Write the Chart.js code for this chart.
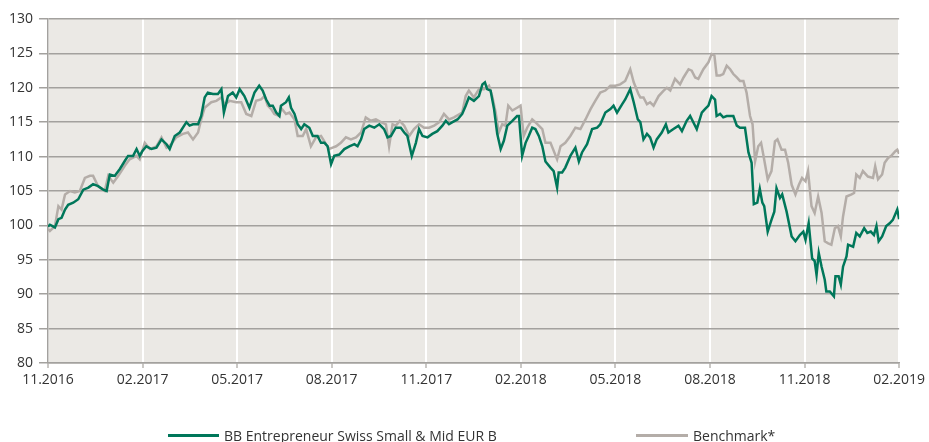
<!DOCTYPE html>
<html>
<head>
<meta charset="utf-8">
<script src="https://cdn.jsdelivr.net/npm/chart.js@4.4.1/dist/chart.umd.min.js"></script>
<style>
html,body{margin:0;padding:0;background:#fff;}
#wrap{position:relative;width:929px;height:442px;}
#legend{position:absolute;left:0;top:426px;width:929px;height:18px;font:14px "Open Sans",sans-serif;color:#333;}
.item{position:absolute;top:0;height:18px;display:flex;align-items:center;white-space:nowrap;}
.swatch{display:inline-block;height:3px;margin-right:5px;}
</style>
</head>
<body>
<div id="wrap">
<canvas id="chart" width="929" height="442"></canvas>
<div id="legend">
<div class="item" style="left:168px"><span class="swatch" style="width:51px;background:#00775a"></span>BB Entrepreneur Swiss Small &amp; Mid EUR B</div>
<div class="item" style="left:636px"><span class="swatch" style="width:52px;background:#b4ada8"></span>Benchmark*</div>
</div>
</div>
<script>
// x = months since 11.2016
const tickLabels=["11.2016","02.2017","05.2017","08.2017","11.2017","02.2018","05.2018","08.2018","11.2018","02.2019"];

const fundMonths=[0,0.06,0.22,0.33,0.43,0.54,0.64,0.80,0.96,1.12,1.28,1.43,1.59,1.75,1.86,1.96,2.12,2.28,2.44,2.54,2.70,2.81,2.91,2.99,3.12,3.28,3.44,3.60,3.76,3.86,4.02,4.18,4.39,4.49,4.60,4.76,4.86,4.97,5.07,5.23,5.39,5.50,5.58,5.71,5.86,5.97,6.08,6.23,6.39,6.55,6.70,
6.81,6.92,7.03,7.13,7.24,7.34,7.39,7.55,7.64,7.71,7.82,7.92,8.03,8.13,8.29,8.40,8.55,8.66,8.77,8.87,8.98,9.08,9.24,9.40,9.56,9.72,9.82,9.93,10.03,10.19,10.35,10.51,10.66,10.77,10.88,11.03,11.19,11.30,11.40,11.54,11.67,11.77,11.88,12.04,12.19,12.35,12.51,12.62,12.72,
12.83,12.99,13.14,13.25,13.35,13.51,13.67,13.78,13.86,13.93,14.04,14.15,14.25,14.36,14.46,14.57,14.73,14.88,14.94,15.04,15.15,15.25,15.36,15.46,15.57,15.68,15.78,15.94,16.04,16.15,16.20,16.31,16.41,16.57,16.73,16.84,16.94,17.10,17.26,17.42,17.52,17.68,17.84,17.94,18.05,18.21,18.31,18.47,18.58,18.71,
18.79,18.89,19.00,19.10,19.21,19.31,19.47,19.60,19.68,19.84,20.00,20.11,20.26,20.37,20.47,20.58,20.74,20.84,20.95,21.05,21.16,21.21,21.32,21.42,21.53,21.64,21.74,21.85,21.95,22.11,22.22,22.32,22.39,22.50,22.58,22.66,22.72,22.83,22.95,23.04,23.11,23.22,23.29,23.43,23.59,23.71,23.85,23.96,24.03,24.13,24.24,24.32,24.38,24.45,24.54,24.64,24.69,24.80,24.93,24.98,25.08,25.15,25.22,25.33,25.38,25.54,25.64,25.75,25.89,25.99,26.10,26.20,26.28,26.35,26.46,26.59,26.70,26.80,26.94,27.0];
const fundValues=[99.8,100.1,99.7,100.9,101.1,102.3,103,103.3,103.8,105.2,105.5,106,105.7,105.2,105,107.4,107.2,108.2,109.4,110.1,110.1,111.1,110.1,110.8,111.5,111.1,111.3,112.5,111.8,111.1,113,113.5,115,114.5,114.7,114.7,115.9,118.6,119.3,119.1,119.1,119.8,116.4,118.8,119.3,118.6,119.8,118.8,117.1,119.3,120.3,
119.6,118.3,117.4,117.4,116.4,115.9,117.4,117.9,118.6,117.1,116.2,114.7,114,114.7,114.2,113,113,112,112,111.5,108.9,110.1,110.3,111.1,111.5,111.8,111.5,112.5,114,114.5,114.2,114.7,114,112.8,113,114.2,114.2,113.5,113,110.1,112,114,113,112.8,113.3,113.7,114.5,115.2,114.7,
115,115.4,116.2,117.4,118.6,118.1,118.8,120.5,120.8,119.8,119.6,116.9,113.3,111.1,112.3,114.5,115.2,115.9,115.9,110.1,112,113,114.2,114,113,111.5,109.3,108.4,107.9,105.5,107.7,107.7,108.4,110.1,111.3,109.3,110.6,111.8,114,114.2,114.7,116.4,116.9,117.4,116.4,117.6,118.3,119.8,117.9,115.4,
115,112.5,113.3,112.8,111.3,112.5,113.5,114.7,113.5,114,114.5,113.7,115.2,115.9,115,114,116.4,116.9,117.4,118.8,118.3,115.9,116.2,115.7,115.9,115.9,115.9,114.5,114.2,114.2,110.6,109.1,103.1,103.3,105.3,103.3,102.8,99.1,100.8,102,105.4,104,104.5,102,98.4,97.7,98.6,99.1,97.9,100.3,95.2,94.8,92.8,96,94,92.1,90.4,90.4,89.7,92.6,92.6,91.4,94,95.5,97.2,96.9,98.9,98.4,99.6,98.9,99.1,98.6,99.9,97.7,98.4,99.9,100.3,100.8,102.3,100.9];

const benchMonths=[0,0.06,0.22,0.33,0.43,0.54,0.70,0.85,1.01,1.17,1.33,1.43,1.59,1.80,1.91,2.07,2.23,2.44,2.59,2.81,2.91,3.07,3.23,3.44,3.60,3.76,3.91,4.07,4.28,4.44,4.60,4.76,4.86,4.97,5.18,5.34,5.50,5.60,5.76,5.97,6.13,6.29,6.45,6.60,
6.76,6.87,6.97,7.08,7.18,7.34,7.39,7.55,7.66,7.82,7.92,8.08,8.19,8.34,8.50,8.66,8.82,8.92,9.03,9.14,9.29,9.45,9.61,9.77,9.93,10.08,10.24,10.40,10.56,10.72,10.82,10.93,11.03,11.16,11.30,11.46,11.61,11.77,11.93,12.09,12.25,12.41,12.56,12.72,
12.88,13.14,13.25,13.35,13.51,13.67,13.83,13.99,14.09,14.20,14.30,14.41,14.51,14.60,14.73,14.88,14.99,15.09,15.20,15.36,15.46,15.57,15.68,15.78,15.94,16.15,16.26,16.41,16.57,16.73,16.89,17.05,17.21,17.36,17.52,17.68,17.84,18.00,18.15,18.31,18.47,18.58,18.73,
18.79,18.89,19.00,19.10,19.21,19.37,19.53,19.63,19.74,19.89,20.05,20.16,20.32,20.42,20.53,20.63,20.79,20.95,21.05,21.14,21.21,21.32,21.42,21.53,21.64,21.74,21.85,21.95,22.06,22.16,22.27,22.35,22.43,22.53,22.62,22.69,22.83,22.95,23.06,23.14,23.27,23.38,23.48,23.59,23.71,23.82,23.92,24.03,24.11,24.22,24.32,24.43,24.54,24.64,24.75,24.85,24.96,25.06,25.15,25.22,25.33,25.49,25.57,25.64,25.75,25.85,26.01,26.17,26.24,26.33,26.46,26.54,26.65,26.75,26.88,26.94,27.0];
const benchValues=[99.5,99.2,99.9,102.8,102.3,104.5,105,104.8,105,106.9,107.2,107.2,105.7,105,107.2,106.2,107.2,108.7,109.6,110.1,109.6,112,111.1,111.5,112.8,111.3,111.8,112.8,113.3,113.5,112.5,113.5,115.4,117.1,117.9,118.1,118.6,117.6,118.1,117.9,117.9,116.2,115.9,118.1,
118.3,118.8,117.4,116.9,116.2,115.9,117.1,116.2,116.4,115.4,113,113,114,111.5,112.8,113,111.8,111.1,111.3,111.5,112,112.8,112.5,112.8,113.5,115.7,115.2,115.4,115,114.7,111.5,114.7,114.5,115.2,114.5,113,114,114.7,114.2,114.2,114.5,115,116.2,115.4,
115.7,116.4,118.8,119.6,118.6,119.8,119.8,120.3,118.8,116.4,113.5,114.7,114.5,117.4,116.7,117.1,117.4,113,114.2,115.4,115,114.5,114,112,112,109.6,111.5,112,113,114.2,114,115.4,116.9,118.1,119.3,119.6,120.3,120.3,120.5,121,122.7,120.8,119.1,
118.6,118.6,117.6,117.9,117.4,118.8,119.6,120,119.6,121.3,120.5,121.5,122.7,122.5,121.5,121.3,122.7,123.7,124.9,124.7,121.8,121.8,122,123.2,122.7,122,121.5,121,121,119.3,115.9,114.7,109.3,111.5,112,110.3,106.7,107.9,112.2,112.5,111,111,109.1,105.9,104.5,105.9,106.9,106.4,107.9,102.8,101.8,104.2,101.8,97.7,97.4,97.2,99.6,99.9,98.4,101.3,104.2,104.5,104.7,107.4,106.9,107.9,107.1,106.9,108.6,106.7,107.4,109.1,109.8,110.1,110.8,111,110.4];

const green="#00775a";
const grey="#b4ada8";
const gridGrey="#a3a19e";
const font={family:"'Open Sans', sans-serif",size:14};

const plotBg={
id:"plotBg",
beforeDraw(c){
const a=c.chartArea,ctx=c.ctx;
ctx.save();
ctx.fillStyle="#ebe9e5";
ctx.fillRect(a.left,a.top,a.right-a.left,a.bottom-a.top);
ctx.restore();
}
};

new Chart(document.getElementById("chart"),{
type:"line",
data:{
datasets:[
{label:"BB Entrepreneur Swiss Small & Mid EUR B",data:fundMonths.map((m,i)=>({x:m,y:fundValues[i]})),borderColor:green,borderWidth:2.5,pointRadius:0,tension:0},
{label:"Benchmark*",data:benchMonths.map((m,i)=>({x:m,y:benchValues[i]})),borderColor:grey,borderWidth:2.5,pointRadius:0,tension:0}
]
},
options:{
responsive:false,
animation:false,
layout:{padding:{left:0,right:28,top:19,bottom:49}},
plugins:{legend:{display:false},tooltip:{enabled:false}},
scales:{
x:{
type:"linear",min:0,max:27,
ticks:{stepSize:3,autoSkip:false,maxRotation:0,color:"#333",font:font,padding:4,callback:v=>tickLabels[Math.round(v/3)]},
grid:{color:"#ffffff",lineWidth:2,tickColor:"#cac8c5",tickLength:5},
border:{color:gridGrey,width:1.5},
afterFit:s=>{s.height=30;}
},
y:{
min:80,max:130,
ticks:{stepSize:5,color:"#333",font:font,padding:6},
grid:{color:gridGrey,lineWidth:1.5,tickLength:9},
border:{color:gridGrey,width:1.5},
afterFit:s=>{s.width=48;}
}
}
},
plugins:[plotBg]
});
</script>
</body>
</html>
